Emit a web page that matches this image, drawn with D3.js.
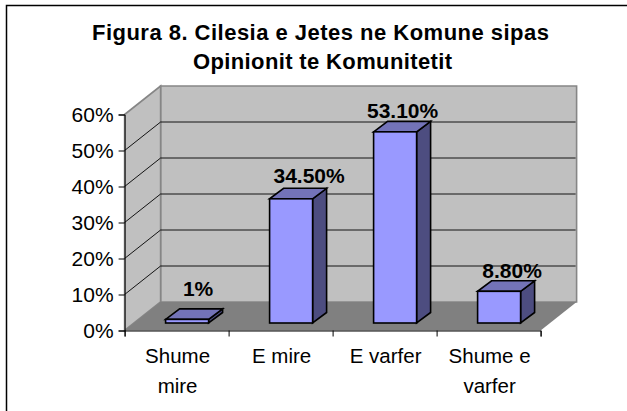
<!DOCTYPE html>
<html><head><meta charset="utf-8">
<script src="https://cdn.jsdelivr.net/npm/d3@7"></script>
<style>
html,body{margin:0;padding:0;background:#fff}
svg{display:block}
text{font-family:"Liberation Sans",Arial,sans-serif;fill:#000}
</style></head><body>
<svg id="c" width="627" height="411"></svg>
<script>
const categories = [["Shume","mire"],["E mire"],["E varfer"],["Shume e","varfer"]];
const values = [1, 34.5, 53.1, 8.8];
const valueLabels = ["1%","34.50%","53.10%","8.80%"];
const yTicks = [0,10,20,30,40,50,60];
const titleLines = ["Figura 8. Cilesia e Jetes ne Komune sipas","Opinionit te Komunitetit"];

// layout only
const labelNudge = [[11,-13],[18,-5],[7.5,-3],[13,-3]];
const titleBoxes = [[92,457,39.5],[193,259,69]];

const svg = d3.select("#c");
// the frame is cropped: only its top and left edges are visible
svg.append("path").attr("fill","none").attr("stroke","#000").attr("stroke-width",1.5)
  .attr("d",d3.line()([[6.5,411],[6.5,5.5],[627,5.5]]));

const y = d3.scaleLinear().domain([0,60]).range([330.5,114.5]);
const xi = d3.scaleLinear().domain([0,4]).range([124.6,540.6]);
const D = {x:36,y:-28.5};
const BD = {x:14,y:-10.5};
const barW = 43, barOff = {x:41,y:-7.5};
const poly = pts => pts.map(p=>p.join(",")).join(" ");
const x0=xi(0), x1=xi(4), yb=y(0), yt=y(60);

// back wall, side wall, floor
svg.append("polygon").attr("points",poly([[x0+D.x,yb+D.y],[x0+D.x,yt+D.y],[x1+D.x,yt+D.y],[x1+D.x,yb+D.y]]))
  .attr("fill","#c0c0c0").attr("stroke","#868686").attr("stroke-width",1.6);
svg.append("polygon").attr("points",poly([[x0,yb],[x0,yt],[x0+D.x,yt+D.y],[x0+D.x,yb+D.y]]))
  .attr("fill","#c0c0c0").attr("stroke","#868686").attr("stroke-width",1.6);
svg.append("polygon").attr("points",poly([[x0,yb],[x0+D.x,yb+D.y],[x1+D.x,yb+D.y],[x1,yb]]))
  .attr("fill","#808080");

// gridlines
yTicks.filter(t=>t>0&&t<60).forEach(t=>{
  svg.append("path").attr("fill","none").attr("stroke","#000").attr("stroke-width",0.9)
    .attr("d",d3.line()([[x0,y(t)],[x0+D.x,y(t)+D.y],[x1+D.x-1,y(t)+D.y]]));
});

// bars
values.forEach((v,i)=>{
  const l=xi(i)+barOff.x, r=l+barW, b=y(0)+barOff.y, t=b-(y(0)-y(v));
  const g=svg.append("g").attr("stroke","#000").attr("stroke-width",1.6).attr("stroke-linejoin","miter");
  g.append("polygon").attr("points",poly([[r,b],[r,t],[r+BD.x,t+BD.y],[r+BD.x,b+BD.y]])).attr("fill","#4d4d80");
  g.append("polygon").attr("points",poly([[l,t],[r,t],[r+BD.x,t+BD.y],[l+BD.x,t+BD.y]])).attr("fill","#7373b8");
  g.append("rect").attr("x",l).attr("y",t).attr("width",barW).attr("height",b-t).attr("fill","#9999ff");
  svg.append("text").attr("x",(l+r)/2+labelNudge[i][0]).attr("y",t+BD.y+labelNudge[i][1]).attr("text-anchor","middle")
    .attr("font-size",21).attr("font-weight","bold").text(valueLabels[i]);
});

// axes
const ax=svg.append("g").attr("transform",`translate(${x0},0)`)
  .call(d3.axisLeft(y).tickValues(yTicks).tickSize(6).tickFormat(d=>d+"%"));
ax.selectAll("text").attr("font-size",21).attr("font-family",null).attr("x",-11).attr("dy","0.35em");
const bx=svg.append("g").attr("transform",`translate(0,${yb})`)
  .call(d3.axisBottom(xi).tickValues(d3.range(5)).tickSize(6).tickFormat(""));
ax.selectAll("path,line").attr("stroke","#000").attr("stroke-width",1);
bx.selectAll("path,line").attr("stroke","#000").attr("stroke-width",1);

// category labels
categories.forEach((c,i)=>{
  c.forEach((s,j)=>{
    svg.append("text").attr("x",xi(i+0.5)+1).attr("y",363+j*30).attr("text-anchor","middle")
      .attr("font-size",20.5).text(s);
  });
});

// title
titleLines.forEach((s,j)=>{
  svg.append("text").attr("x",titleBoxes[j][0]).attr("y",titleBoxes[j][2])
    .attr("font-size",22).attr("font-weight","bold")
    .attr("textLength",titleBoxes[j][1]).attr("lengthAdjust","spacing").text(s);
});
</script></body></html>
